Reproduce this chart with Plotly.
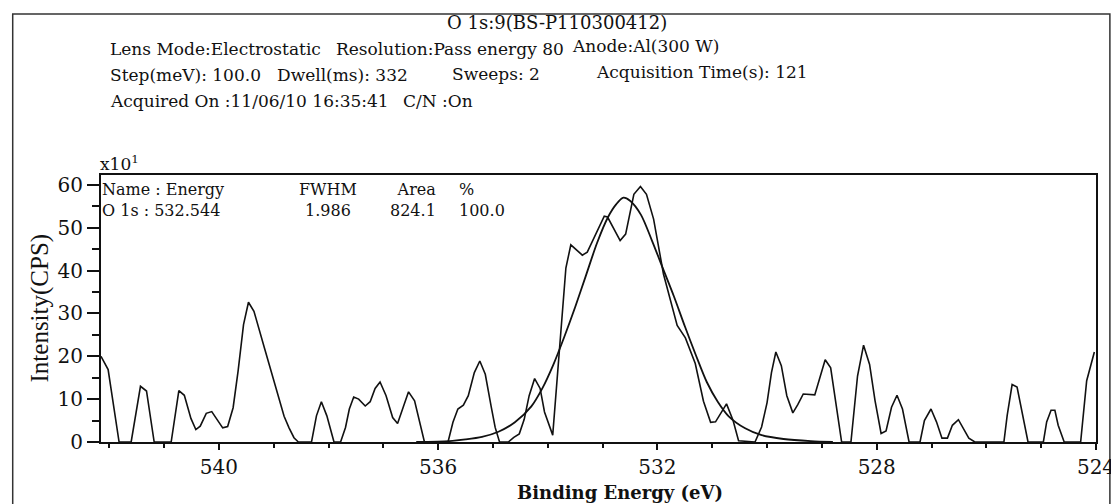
import plotly.graph_objects as go

# ---- data (Binding energy eV, intensity x10 CPS) ----
be_raw = [542.15, 542.02, 541.82, 541.60, 541.43, 541.32, 541.18, 540.87, 540.73, 540.63,
          540.51, 540.42, 540.34, 540.23, 540.13, 540.02, 539.93, 539.84, 539.74, 539.65,
          539.55, 539.46, 539.36, 539.17, 538.99, 538.81, 538.72, 538.63, 538.55,
          538.31, 538.22, 538.13, 538.03, 537.90, 537.78, 537.69, 537.62, 537.54, 537.45,
          537.33, 537.24, 537.15, 537.06, 536.95, 536.83, 536.74, 536.63, 536.54, 536.43,
          536.33, 536.25, 535.82, 535.73, 535.64, 535.54, 535.45, 535.34, 535.24, 535.14,
          535.03, 534.96, 534.88, 534.72, 534.62, 534.52, 534.43, 534.34, 534.24, 534.14,
          534.06, 533.99, 533.91, 533.67, 533.58, 533.37, 533.28, 532.97, 532.91, 532.68,
          532.58, 532.43, 532.31, 532.20, 532.07, 531.89, 531.76, 531.64, 531.49, 531.31,
          531.16, 531.03, 530.94, 530.83, 530.74, 530.62, 530.52, 530.22,
          530.10, 530.00, 529.92, 529.84, 529.74, 529.64, 529.53, 529.44, 529.34, 529.13,
          529.04, 528.94, 528.84, 528.74, 528.64, 528.47, 528.35, 528.24, 528.13, 528.03,
          527.92, 527.83, 527.73, 527.63, 527.53, 527.41, 527.21, 527.13, 527.01, 526.91,
          526.81, 526.71, 526.62, 526.51, 526.41, 526.32, 526.21, 525.68, 525.62, 525.53,
          525.44, 525.35, 525.24, 524.96, 524.90, 524.82, 524.75, 524.69, 524.58, 524.28,
          524.17, 524.03]
cps_raw = [20.0, 16.9, 0, 0, 13.0, 11.9, 0, 0, 12.0, 10.9,
           5.5, 2.9, 3.7, 6.7, 7.1, 5.0, 3.3, 3.6, 8.0, 16.5,
           27.4, 32.6, 30.5, 22.0, 14.2, 6.0, 3.3, 1.0, 0,
           0, 6.1, 9.4, 6.1, 0, 0, 3.4, 7.7, 10.5, 10.0,
           8.4, 9.4, 12.5, 14.0, 10.8, 5.7, 4.3, 8.4, 11.7, 9.6,
           4.6, 0, 0, 4.6, 7.7, 8.6, 10.8, 16.2, 18.9, 15.8,
           8.1, 3.4, 0, 0, 1.1, 1.9, 5.3, 10.8, 14.8, 12.5,
           7.0, 4.7, 1.6, 40.6, 46.0, 43.6, 44.3, 52.7, 52.5, 47.0,
           48.5, 57.8, 59.6, 57.8, 52.0, 39.2, 32.6, 27.2, 24.3, 18.3,
           9.5, 4.6, 4.7, 7.0, 8.9, 5.0, 0.3, 0,
           3.5, 9.2, 16.2, 21.0, 17.8, 10.8, 6.8, 8.7, 11.2, 11.0,
           14.7, 19.2, 17.3, 8.4, 0, 0, 15.4, 22.6, 18.1, 9.6,
           2.0, 2.6, 8.1, 10.9, 7.7, 0, 0, 5.0, 7.7, 4.7,
           0.9, 0.9, 3.9, 5.2, 3.1, 0.9, 0, 0, 6.2, 13.4,
           12.8, 7.0, 0, 0, 4.7, 7.4, 7.4, 3.9, 0, 0,
           14.3, 21.0]

be_fit = [536.40, 535.80, 535.50, 535.20, 534.90, 534.60, 534.30, 534.10, 533.90, 533.70,
          533.50, 533.30, 533.10, 532.90, 532.75, 532.62, 532.50, 532.30, 532.10, 531.90,
          531.70, 531.50, 531.30, 531.10, 530.90, 530.70, 530.40, 530.10, 529.70, 529.20,
          528.80]
cps_fit = [0.0, 0.2, 0.6, 1.2, 2.4, 4.6, 8.3, 12.5, 18.0, 24.5,
           31.5, 39.0, 46.5, 52.5, 55.5, 57.0, 56.3, 53.0, 47.0, 40.5,
           34.0, 27.0, 20.3, 14.0, 9.4, 6.0, 3.2, 1.6, 0.7, 0.2,
           0.0]

x_range = [542.15, 524.0]
y_range = [0, 62.3]
x_major = [540, 536, 532, 528, 524]
y_major = [0, 10, 20, 30, 40, 50, 60]

title_text = "O 1s:9(BS-P110300412)"
header_rows = [
    [("Lens Mode:Electrostatic", 100, 41), ("Resolution:Pass energy 80", 328, 41), ("Anode:Al(300 W)", 566, 38)],
    [("Step(meV): 100.0", 100, 67), ("Dwell(ms): 332", 268, 67), ("Sweeps: 2", 445, 66), ("Acquisition Time(s): 121", 590, 64)],
    [("Acquired On :11/06/10 16:35:41", 100, 93), ("C/N :On", 395, 93)],
]
# peak table: (header, value, x anchor px, anchor side)
table_cols = [
    ("Name : Energy", "O 1s : 532.544", 92, "left"),
    ("FWHM", "1.986", 322, "center"),
    ("Area", "824.1", 433, "right"),
    ("%", "100.0", 452, "left"),
]

# ---- layout geometry (pixels) ----
W, H = 1119, 504
L, R, T, B = 93, 1096, 167, 434
PW, PH = R - L, B - T


def px2x(px):
    return (px - L) / PW


def py2y(py):
    return (B - py) / PH


SERIF = "DejaVu Serif"
INK = "#111"
fig = go.Figure()
fig.add_trace(go.Scatter(x=be_fit, y=cps_fit, mode="lines",
                         line=dict(color=INK, width=1.8, shape="spline", smoothing=0.8),
                         hoverinfo="skip", showlegend=False))
fig.add_trace(go.Scatter(x=be_raw, y=cps_raw, mode="lines", line=dict(color=INK, width=1.6),
                         showlegend=False))

annotations = []
annotations.append(dict(text=title_text, x=px2x(553), y=py2y(15), xref="paper", yref="paper",
                        xanchor="center", yanchor="middle", showarrow=False,
                        font=dict(family=SERIF, size=18, color=INK)))
for row in header_rows:
    for txt, px, py in row:
        annotations.append(dict(text=txt, x=px2x(px), y=py2y(py), xref="paper", yref="paper",
                                xanchor="left", yanchor="middle", showarrow=False,
                                font=dict(family=SERIF, size=17, color=INK)))
for head, val, px, side in table_cols:
    annotations.append(dict(text=head + "<br>" + val, x=px2x(px), y=py2y(170), xref="paper", yref="paper",
                            xanchor=side, yanchor="top", align=side, showarrow=False,
                            font=dict(family=SERIF, size=16, color=INK)))
annotations.append(dict(text="x10<sup>1</sup>", x=px2x(90), y=py2y(155), xref="paper", yref="paper",
                        xanchor="left", yanchor="middle", showarrow=False,
                        font=dict(family=SERIF, size=17, color=INK)))
annotations.append(dict(text="Intensity(CPS)", x=px2x(32), y=py2y(300), xref="paper", yref="paper",
                        xanchor="center", yanchor="middle", showarrow=False, textangle=-90,
                        font=dict(family="Liberation Serif", size=25, color=INK)))
annotations.append(dict(text="<b>Binding Energy (eV)</b>", x=px2x(616), y=py2y(484), xref="paper", yref="paper",
                        xanchor="center", yanchor="middle", showarrow=False,
                        font=dict(family=SERIF, size=18, color=INK)))

fig.update_layout(
    width=W, height=H,
    margin=dict(l=L, r=W - R, t=T, b=H - B),
    paper_bgcolor="white", plot_bgcolor="white",
    annotations=annotations,
    shapes=[dict(type="rect", xref="paper", yref="paper",
                 x0=px2x(4), x1=px2x(1110), y0=py2y(540), y1=py2y(6),
                 line=dict(color="#333", width=1.5), fillcolor="rgba(0,0,0,0)", layer="below")],
    xaxis=dict(range=x_range, tickmode="array", tickvals=x_major, ticktext=[str(v) for v in x_major],
               ticks="outside", ticklen=6, tickwidth=2, tickcolor=INK,
               minor=dict(dtick=1, tick0=524, ticks="outside", ticklen=4, tickwidth=1.5, tickcolor=INK),
               showline=True, linecolor=INK, linewidth=2, mirror=True,
               showgrid=False, zeroline=False,
               tickfont=dict(family=SERIF, size=20, color=INK)),
    yaxis=dict(range=y_range, tickmode="array", tickvals=y_major, ticktext=[str(v) for v in y_major],
               ticks="outside", ticklen=12, tickwidth=1.5, tickcolor=INK,
               minor=dict(dtick=5, tick0=0, ticks="outside", ticklen=7, tickwidth=1.5, tickcolor=INK),
               showline=True, linecolor=INK, linewidth=2, mirror=True,
               showgrid=False, zeroline=False,
               tickfont=dict(family=SERIF, size=20, color=INK)),
)

fig.write_html("out.html")
